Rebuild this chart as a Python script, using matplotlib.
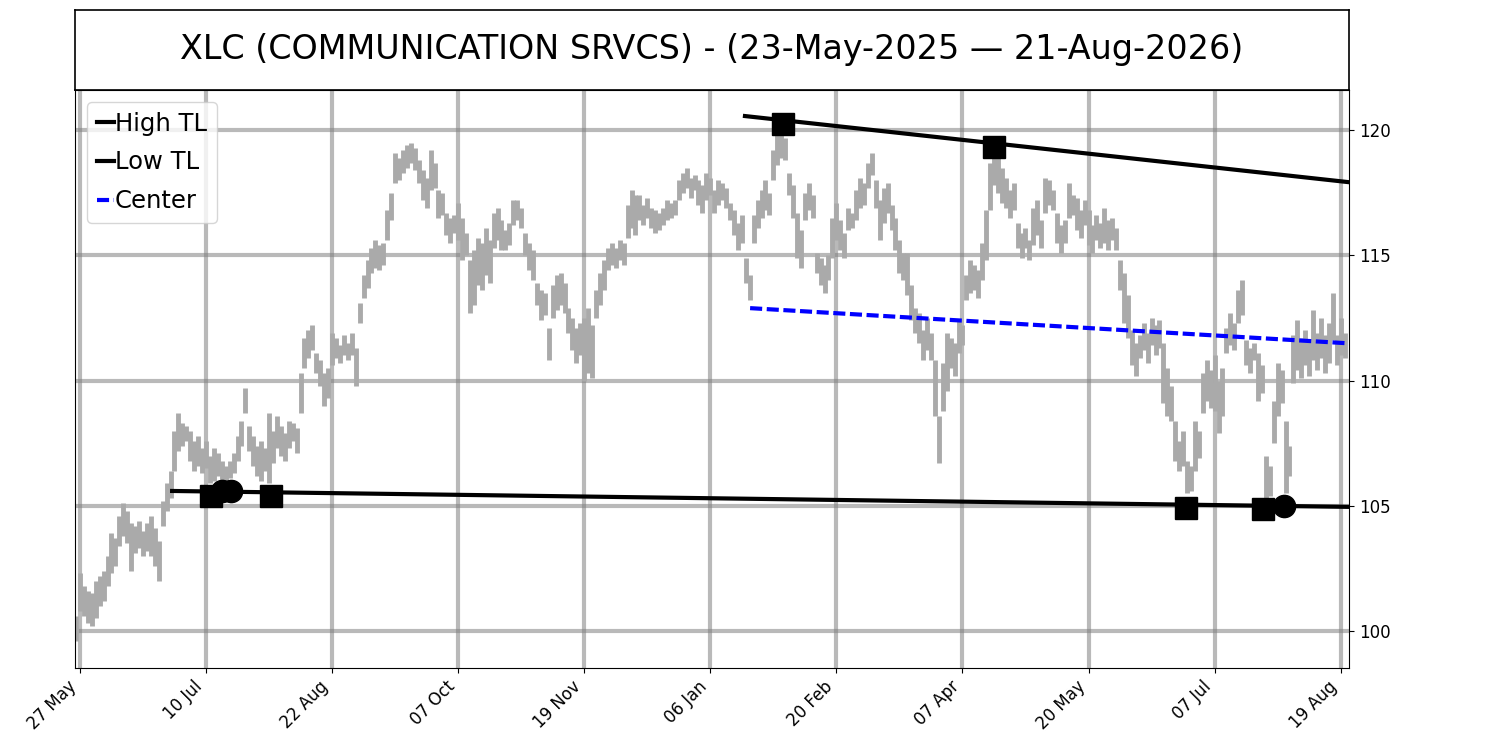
import matplotlib
matplotlib.use("Agg")
import matplotlib.pyplot as plt
import numpy as np

# ---- data ----
lows = [
    99.6, 100.8, 100.6, 100.3, 100.2, 100.5, 101.0, 101.2, 101.8, 102.3,
    102.6, 103.4, 103.8, 103.5, 102.4, 103.1, 103.3, 103.0, 103.2, 103.0,
    102.6, 102.0, 104.2, 104.8, 105.3, 106.4, 107.2, 107.4, 107.6, 106.8,
    106.4, 106.6, 106.3, 106.5, 105.9, 106.0, 106.2, 105.9, 106.0, 106.1,
    106.3, 106.8, 107.4, 108.7, 107.2, 106.6, 106.2, 106.0, 106.4, 105.9,
    106.7, 107.3, 107.0, 106.8, 107.3, 107.6, 107.1, 108.7, 110.5, 110.9,
    111.2, 110.3, 109.8, 109.0, 109.3, 110.6, 110.9, 110.7, 111.0, 110.8,
    111.0, 109.8, 112.3, 113.3, 113.7, 114.3, 114.5, 114.4, 114.6, 115.6,
    116.4, 117.9, 118.0, 118.3, 118.5, 118.7, 118.4, 117.9, 117.2, 116.9,
    117.6, 117.7, 116.5, 116.6, 115.8, 115.5, 115.9, 115.6, 114.8, 115.0,
    112.7, 113.0, 113.8, 113.6, 114.2, 113.9, 115.3, 115.6, 115.2, 115.2,
    115.4, 116.2, 116.4, 116.1, 115.0, 114.4, 114.0, 113.0, 112.4, 112.6,
    110.8, 112.5, 112.8, 113.0, 112.7, 111.9, 111.2, 110.7, 111.0, 110.0,
    110.3, 110.1, 112.5, 113.0, 113.6, 114.4, 114.6, 114.5, 114.8, 114.6,
    115.7, 116.1, 115.8, 116.4, 116.2, 116.5, 116.1, 115.9, 116.0, 116.2,
    116.4, 116.5, 116.6, 117.2, 117.5, 117.7, 117.3, 117.6, 117.0, 116.7,
    117.2, 117.4, 116.7, 117.0, 117.2, 116.9, 116.4, 115.8, 115.2, 115.5,
    113.9, 113.2, 115.5, 116.1, 116.5, 116.8, 116.6, 118.0, 118.6, 118.9,
    118.8, 117.4, 116.5, 114.9, 114.5, 116.4, 116.8, 116.5, 114.3, 113.8,
    113.5, 114.0, 114.9, 115.6, 115.2, 114.9, 116.0, 116.1, 116.4, 116.9,
    117.0, 117.7, 118.2, 116.9, 115.6, 116.3, 116.7, 116.0, 115.2, 114.3,
    114.0, 113.4, 112.4, 111.9, 111.5, 110.8, 111.2, 110.8, 108.6, 106.7,
    108.8, 109.6, 110.5, 110.2, 111.1, 111.4, 113.2, 113.5, 113.6, 113.3,
    114.0, 114.8, 116.8, 117.8, 117.5, 117.1, 116.9, 116.5, 116.8, 115.3,
    114.9, 115.3, 114.8, 115.4, 115.8, 115.3, 116.7, 117.0, 116.8, 115.5,
    115.1, 115.5, 116.5, 116.6, 116.0, 115.7, 116.2, 115.4, 115.1, 115.6,
    115.3, 115.5, 115.2, 115.6, 115.2, 113.6, 112.3, 111.7, 110.6, 110.2,
    110.9, 111.2, 110.7, 111.4, 111.0, 111.3, 109.1, 108.6, 108.4, 106.8,
    106.4, 106.6, 105.5, 105.6, 106.4, 106.9, 108.7, 109.2, 108.9, 108.8,
    107.9, 108.6, 111.1, 111.4, 111.2, 112.3, 112.6, 110.6, 110.3, 110.8,
    109.2, 109.5, 105.2, 105.4, 107.5, 108.6, 109.1, 105.5, 106.2, 109.9,
    110.4, 110.1, 110.6, 110.2, 110.8, 110.4, 110.9, 110.3, 110.7, 111.6,
    110.6, 111.0, 110.9,
]
highs = [
    100.6, 102.3, 101.8, 101.6, 101.5, 102.0, 102.2, 102.4, 103.0, 103.9,
    103.7, 104.6, 105.1, 104.8, 104.3, 104.2, 104.4, 104.0, 104.3, 104.6,
    104.1, 103.6, 105.2, 105.9, 106.4, 108.0, 108.7, 108.3, 108.2, 108.0,
    107.6, 107.8, 107.3, 107.6, 107.0, 107.3, 107.1, 106.8, 106.6, 106.8,
    107.1, 107.8, 108.4, 109.7, 108.2, 107.8, 107.4, 107.6, 107.3, 108.7,
    108.0, 108.6, 108.2, 107.9, 108.4, 108.3, 108.1, 110.3, 111.7, 112.0,
    112.2, 111.1, 110.8, 110.3, 110.5, 111.9, 111.7, 111.4, 111.8, 111.5,
    111.9, 111.3, 113.1, 114.2, 114.8, 115.3, 115.6, 115.4, 115.5, 116.8,
    117.5, 119.1, 118.9, 119.2, 119.4, 119.5, 119.3, 118.8, 118.4, 118.1,
    119.2, 118.7, 117.6, 117.5, 116.7, 116.5, 116.6, 117.1, 116.5, 115.9,
    114.8, 115.2, 115.7, 115.5, 116.1, 115.6, 116.7, 116.9, 116.4, 116.0,
    116.3, 117.2, 117.2, 116.9, 115.9, 115.5, 115.2, 113.9, 113.6, 113.5,
    112.1, 113.8, 114.2, 114.3, 113.9, 112.9, 112.5, 112.1, 112.3, 112.5,
    112.9, 112.2, 113.6, 114.3, 114.8, 115.3, 115.5, 115.3, 115.6, 115.5,
    117.0, 117.6, 117.4, 117.4, 117.0, 117.3, 116.9, 116.8, 116.7, 116.9,
    117.2, 117.1, 117.2, 118.0, 118.3, 118.5, 118.1, 118.2, 118.0, 117.8,
    118.3, 118.1, 117.6, 118.0, 117.9, 117.7, 117.1, 116.8, 116.3, 116.6,
    114.9, 114.2, 116.6, 117.2, 117.6, 118.0, 117.5, 119.2, 119.9, 119.8,
    119.7, 118.3, 117.8, 116.7, 116.0, 117.5, 117.9, 117.4, 115.1, 114.9,
    114.6, 115.0, 116.5, 117.1, 116.4, 115.9, 116.9, 116.7, 117.6, 118.1,
    117.9, 118.7, 119.1, 118.0, 117.2, 117.7, 117.9, 117.0, 116.5, 115.6,
    115.1, 115.1, 113.8, 112.9, 112.7, 112.0, 112.5, 111.9, 110.8, 108.6,
    110.7, 111.9, 111.7, 111.5, 112.4, 112.2, 114.2, 114.8, 114.6, 114.4,
    115.5, 116.8, 118.7, 118.9, 118.9, 118.5, 118.1, 117.6, 117.9, 116.3,
    115.9, 116.1, 115.6, 116.9, 117.2, 116.4, 118.1, 118.0, 117.6, 116.7,
    116.2, 116.4, 117.9, 117.4, 117.3, 116.8, 117.2, 116.8, 116.2, 116.6,
    116.3, 116.9, 116.4, 116.5, 116.1, 114.8, 114.3, 113.4, 112.0, 111.5,
    111.8, 112.3, 111.9, 112.5, 112.2, 112.4, 111.5, 110.5, 109.8, 108.4,
    107.6, 108.0, 106.8, 106.6, 108.4, 108.0, 110.3, 110.8, 110.4, 111.0,
    110.0, 110.5, 112.1, 112.7, 112.3, 113.6, 114.0, 111.6, 111.3, 111.5,
    111.1, 110.6, 107.0, 106.6, 109.2, 110.7, 110.4, 108.4, 107.4, 111.8,
    112.4, 111.7, 112.0, 111.6, 112.8, 111.9, 112.5, 111.8, 112.3, 113.5,
    111.8, 112.5, 111.9,
]

tick_labels = ['27 May', '10 Jul', '22 Aug', '07 Oct', '19 Nov', '06 Jan',
               '20 Feb', '07 Apr', '20 May', '07 Jul', '19 Aug']
tick_bar_index = [1, 33, 65, 97, 129, 161, 193, 225, 257, 289, 321]

# trend lines (bar index, value)
high_tl_x = [169.8, 330.0]
high_tl_y = [120.56, 117.80]
low_tl_x = [24.4, 330.0]
low_tl_y = [105.59, 104.94]
center_x = [171.1, 330.0]
center_y = [112.89, 111.42]

# pivot markers
high_sq_x = [179.4, 233.0]
high_sq_y = [120.24, 119.32]
low_sq_x = [34.3, 49.5, 281.7, 301.3]
low_sq_y = [105.39, 105.39, 104.91, 104.87]
low_ci_x = [37.1, 39.3, 306.6]
low_ci_y = [105.59, 105.59, 104.97]

title = "XLC (COMMUNICATION SRVCS) - (23-May-2025 \u2014 21-Aug-2026)"

# ---- figure ----
fig = plt.figure(figsize=(15, 7.5), dpi=100)
ax_t = fig.add_axes([0.05, 0.88, 0.8493, 0.1067])
ax = fig.add_axes([0.05, 0.1093, 0.8493, 0.7707])

ax_t.set_xticks([])
ax_t.set_yticks([])
for s in ax_t.spines.values():
    s.set_linewidth(1.2)
ax_t.text(0.5, 0.5, title, ha='center', va='center', fontsize=24,
          transform=ax_t.transAxes)

idx = np.arange(len(lows))
ax.vlines(idx, lows, highs, colors='#aaaaaa', linewidth=3.5)

ax.plot(high_tl_x, high_tl_y, color='black', lw=3, label='High TL')
ax.plot(low_tl_x, low_tl_y, color='black', lw=3, label='Low TL')
ax.plot(center_x, center_y, color='blue', lw=3, dashes=(2.9, 1.1), label='Center')

ax.plot(high_sq_x, high_sq_y, 's', color='black', ms=15.5, ls='none')
ax.plot(low_sq_x, low_sq_y, 's', color='black', ms=15.5, ls='none')
ax.plot(low_ci_x, low_ci_y, 'o', color='black', ms=16, ls='none')

ax.set_xlim(-0.25, 323.1)
ax.set_ylim(98.52, 121.6)
ax.set_xticks(tick_bar_index)
ax.set_xticklabels(tick_labels, rotation=45, ha='right', fontsize=12)
ax.set_yticks([100, 105, 110, 115, 120])
ax.yaxis.tick_right()
ax.tick_params(axis='y', labelsize=12)
ax.grid(True, color='gray', alpha=0.55, linewidth=3)

ax.legend(loc='upper left', fontsize=17.5, handlelength=0.7, handletextpad=0.05,
          borderpad=0.4, labelspacing=0.6, borderaxespad=0.5)

fig.savefig('out.png', dpi=100)
